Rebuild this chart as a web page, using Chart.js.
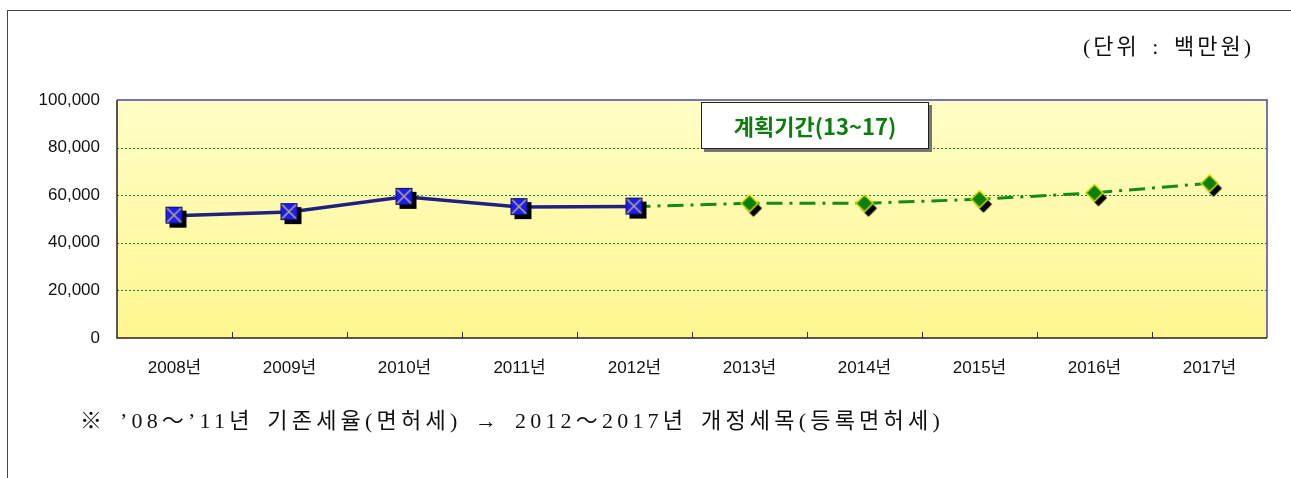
<!DOCTYPE html>
<html>
<head>
<meta charset="utf-8">
<script src="https://cdn.jsdelivr.net/npm/chart.js@4"></script>
<style>
  html, body { margin: 0; padding: 0; background: #fff; }
  #wrap { position: relative; width: 1291px; height: 478px; overflow: hidden; }
  #frame { position: absolute; left: 7px; top: 10px; width: 1300px; height: 480px;
           border-left: 1px solid #444; border-top: 1px solid #444; }
  #unit { position: absolute; left: 1083px; top: 28px; font: 22px "Liberation Serif", "Noto Sans CJK KR";
          color: #111; letter-spacing: 3px; word-spacing: 4px; white-space: nowrap; }
  #note { position: absolute; left: 80px; top: 402px; font: 22px "Liberation Serif", "Noto Sans CJK KR";
          color: #111; letter-spacing: 4.2px; word-spacing: 4px; white-space: nowrap; }
  #plan { position: absolute; left: 701px; top: 102px; width: 226px; height: 45px; background: #fff;
          border: 1px solid #222; box-shadow: 3px 3px 0 #777; text-align: center;
          font: bold 22px "Noto Sans CJK KR"; line-height: 45px; color: #0a7d0a; }
  canvas { position: absolute; left: 0; top: 0; }
</style>
</head>
<body>
<div id="wrap">
  <div id="frame"></div>
  <canvas id="chart" width="1291" height="478"></canvas>
  <div id="unit">(단위 : 백만원)</div>
  <div id="plan">계획기간(13~17)</div>
  <div id="note">※ ’08～’11년 기존세율(면허세) → 2012～2017년 개정세목(등록면허세)</div>
</div>
<script>
const years = ['2008년', '2009년', '2010년', '2011년', '2012년', '2013년', '2014년', '2015년', '2016년', '2017년'];
const actual = [51400, 52900, 59300, 55000, 55200, null, null, null, null, null];
const planned = [null, null, null, null, 55200, 56600, 56600, 58300, 61000, 65000];
const yTicks = [0, 20000, 40000, 60000, 80000, 100000];

// marker images
function squareMarker() {
    const c = document.createElement('canvas');
    c.width = 28; c.height = 28;
    const g = c.getContext('2d');
    g.fillStyle = '#000';
    g.fillRect(9, 9, 17, 17);
    g.fillStyle = '#1a1aff';
    g.fillRect(5, 5, 17, 17);
    g.strokeStyle = '#101060';
    g.lineWidth = 1;
    g.strokeRect(5.5, 5.5, 16, 16);
    g.strokeStyle = '#c0b060';
    g.lineWidth = 1.5;
    g.beginPath();
    g.moveTo(6.5, 6.5); g.lineTo(20.5, 20.5);
    g.moveTo(20.5, 6.5); g.lineTo(6.5, 20.5);
    g.stroke();
    return c;
}
function diamondMarker() {
    const c = document.createElement('canvas');
    c.width = 28; c.height = 28;
    const g = c.getContext('2d');
    const d = (ox, oy) => {
        g.beginPath();
        g.moveTo(14 + ox, 5.5 + oy);
        g.lineTo(22.5 + ox, 14 + oy);
        g.lineTo(14 + ox, 22.5 + oy);
        g.lineTo(5.5 + ox, 14 + oy);
        g.closePath();
    };
    d(4, 5);
    g.fillStyle = '#000';
    g.fill();
    d(0, 0);
    g.fillStyle = '#0a800a';
    g.fill();
    g.strokeStyle = '#e0e000';
    g.lineWidth = 1.5;
    g.stroke();
    return c;
}
const sq = squareMarker();
const dm = diamondMarker();

const plotDeco = {
    id: 'plotDeco',
    beforeDatasetsDraw(chart) {
        const ctx = chart.ctx;
        const a = chart.chartArea;
        const y = chart.scales.y;
        ctx.save();
        const grad = ctx.createLinearGradient(0, a.top, 0, a.bottom);
        grad.addColorStop(0, '#fffdc6');
        grad.addColorStop(1, '#fff690');
        ctx.fillStyle = grad;
        ctx.fillRect(a.left, a.top, a.right - a.left, a.bottom - a.top);
        // dotted grid
        ctx.strokeStyle = '#1f8a1f';
        ctx.lineWidth = 1;
        ctx.setLineDash([2, 2]);
        yTicks.slice(1, -1).forEach(v => {
            const py = Math.round(y.getPixelForValue(v)) + 0.5;
            ctx.beginPath();
            ctx.moveTo(a.left, py);
            ctx.lineTo(a.right, py);
            ctx.stroke();
        });
        ctx.setLineDash([]);
        // inward ticks on the x axis
        const step = (a.right - a.left) / years.length;
        ctx.strokeStyle = '#333';
        for (let i = 1; i < years.length; i++) {
            const px = Math.round(a.left + i * step) + 0.5;
            ctx.beginPath();
            ctx.moveTo(px, a.bottom);
            ctx.lineTo(px, a.bottom - 6);
            ctx.stroke();
        }
        // plot border
        ctx.lineWidth = 1.5;
        ctx.strokeStyle = '#4848a8';
        ctx.beginPath();
        ctx.moveTo(a.left, a.top);
        ctx.lineTo(a.right, a.top);
        ctx.lineTo(a.right, a.bottom);
        ctx.stroke();
        ctx.strokeStyle = '#222';
        ctx.beginPath();
        ctx.moveTo(a.left, a.top);
        ctx.lineTo(a.left, a.bottom);
        ctx.lineTo(a.right, a.bottom);
        ctx.stroke();
        ctx.restore();
    }
};

new Chart(document.getElementById('chart'), {
    type: 'line',
    data: {
        labels: years,
        datasets: [{
            label: '기존세율',
            data: actual,
            borderColor: '#202080',
            borderWidth: 3.5,
            pointStyle: sq,
            pointRadius: 8,
            tension: 0,
            spanGaps: false
        }, {
            label: '계획',
            data: planned,
            borderColor: '#128c12',
            borderWidth: 3,
            borderDash: [16, 7, 3, 7],
            pointStyle: dm,
            pointRadius: planned.map((v, i) => i === 4 ? 0 : 8),
            tension: 0,
            spanGaps: false
        }]
    },
    options: {
        responsive: false,
        devicePixelRatio: 1,
        animation: false,
        layout: { padding: { left: 0, top: 100, right: 24, bottom: 0 } },
        plugins: { legend: { display: false }, tooltip: { enabled: false } },
        scales: {
            x: {
                offset: true,
                grid: { display: false },
                border: { display: false },
                ticks: {
                    padding: 12,
                    color: '#111',
                    font: { family: 'Liberation Sans, Noto Sans CJK KR', size: 17 }
                },
                afterFit(scale) { scale.height = 140; }
            },
            y: {
                min: 0,
                max: 100000,
                grid: { display: false, drawTicks: false },
                border: { display: false },
                ticks: {
                    stepSize: 20000,
                    padding: 17,
                    color: '#111',
                    font: { family: 'Liberation Sans', size: 17 },
                    callback: v => v.toLocaleString('en-US')
                },
                afterFit(scale) { scale.width = 117; }
            }
        }
    },
    plugins: [plotDeco]
});
</script>
</body>
</html>
